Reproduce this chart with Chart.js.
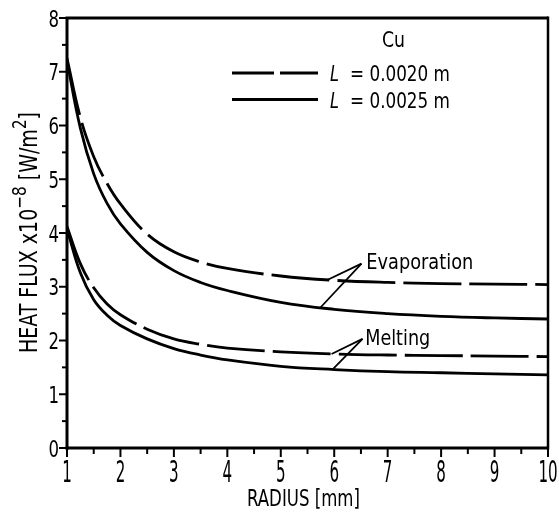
<!DOCTYPE html>
<html>
<head>
<meta charset="utf-8">
<script src="https://cdn.jsdelivr.net/npm/chart.js@4"></script>
<style>
  html, body { margin: 0; padding: 0; background: #fff; }
  #wrap { width: 559px; height: 512px; }
</style>
</head>
<body>
<div id="wrap"><canvas id="chart" width="559" height="512"></canvas></div>
<script>
const FONT = '"DejaVu Sans Condensed", "DejaVu Sans", sans-serif';

// radius [mm]
const radius = [1, 1.25, 1.5, 1.75, 2, 2.5, 3, 3.5, 4, 5, 6, 7, 8, 9, 10];

// heat flux x 10^-8 [W/m2]
const evapL20 = [7.25, 6.15, 5.42, 4.92, 4.54, 3.98, 3.65, 3.46, 3.34, 3.20, 3.12, 3.08, 3.06, 3.05, 3.04];
const evapL25 = [7.20, 5.95, 5.10, 4.55, 4.17, 3.64, 3.30, 3.08, 2.93, 2.71, 2.58, 2.50, 2.45, 2.42, 2.40];
const meltL20 = [4.12, 3.43, 2.98, 2.68, 2.48, 2.21, 2.03, 1.93, 1.86, 1.79, 1.75, 1.73, 1.72, 1.71, 1.70];
const meltL25 = [4.08, 3.26, 2.76, 2.47, 2.28, 2.03, 1.85, 1.73, 1.64, 1.52, 1.46, 1.42, 1.40, 1.38, 1.36];

const xTicks = [1, 2, 3, 4, 5, 6, 7, 8, 9, 10];
const yTicks = [0, 1, 2, 3, 4, 5, 6, 7, 8];

const legendItems = ['0.0020', '0.0025'];

// leader lines: tip near the label, then the points on the curves (data units)
const evapLabel = { text: 'Evaporation', x: 6.6, y: 3.33, w: 107, tip: [6.51, 3.43], ends: [[5.86, 3.12], [5.73, 2.60]] };
const meltLabel = { text: 'Melting', x: 6.58, y: 1.91, w: 65, tip: [6.53, 2.03], ends: [[5.95, 1.75], [5.98, 1.47]] };

const DASH = [58, 8];

function pts(ys) {
  return radius.map((r, i) => ({ x: r, y: ys[i] }));
}

function line(label, ys, dashed) {
  return {
    label: label,
    data: pts(ys),
    borderColor: '#000',
    borderWidth: 2.8,
    borderDash: dashed ? DASH : [],
    pointRadius: 0,
    tension: 0.4,
    fill: false
  };
}

// text squeezed horizontally, the original lettering is very narrow
function sqText(ctx, t, x, y, size, sx, align, style) {
  ctx.save();
  ctx.font = (style ? style + ' ' : '') + size + 'px ' + FONT;
  ctx.textAlign = align || 'left';
  ctx.translate(x, y);
  ctx.scale(sx, 1);
  ctx.fillText(t, 0, 0);
  ctx.restore();
}

function fitText(ctx, t, x, y, size, width, align, style) {
  ctx.font = (style ? style + ' ' : '') + size + 'px ' + FONT;
  const w = ctx.measureText(t).width;
  sqText(ctx, t, x, y, size, width / w, align, style);
}

const decorations = {
  id: 'decorations',
  afterDraw(chart) {
    const ctx = chart.ctx;
    const a = chart.chartArea;
    const xs = chart.scales.x, ys = chart.scales.y;
    ctx.save();
    ctx.strokeStyle = '#000';
    ctx.fillStyle = '#000';
    ctx.textBaseline = 'alphabetic';

    // frame
    ctx.lineWidth = 3;
    ctx.beginPath();
    ctx.moveTo(a.left, a.bottom + 1.5);
    ctx.lineTo(a.left, a.top);
    ctx.lineTo(a.right, a.top);
    ctx.stroke();
    ctx.beginPath();
    ctx.moveTo(a.left - 1.5, a.bottom);
    ctx.lineTo(a.right, a.bottom);
    ctx.stroke();
    ctx.lineWidth = 2.5;
    ctx.beginPath();
    ctx.moveTo(a.right, a.top - 1.5);
    ctx.lineTo(a.right, a.bottom + 1.5);
    ctx.stroke();

    // ticks, major and minor
    ctx.lineWidth = 2;
    xTicks.forEach((v, i) => {
      const px = xs.getPixelForValue(v);
      ctx.beginPath();
      ctx.moveTo(px, a.bottom);
      ctx.lineTo(px, a.bottom + 9);
      ctx.stroke();
      if (i < xTicks.length - 1) {
        const mx = xs.getPixelForValue((v + xTicks[i + 1]) / 2);
        ctx.beginPath();
        ctx.moveTo(mx, a.bottom);
        ctx.lineTo(mx, a.bottom + 6);
        ctx.stroke();
      }
      sqText(ctx, String(v), px, 482, 30, 0.56, 'center');
    });
    yTicks.forEach((v, i) => {
      const py = ys.getPixelForValue(v);
      ctx.beginPath();
      ctx.moveTo(a.left - 8, py);
      ctx.lineTo(a.left, py);
      ctx.stroke();
      if (i < yTicks.length - 1) {
        const my = ys.getPixelForValue((v + yTicks[i + 1]) / 2);
        ctx.beginPath();
        ctx.moveTo(a.left - 5, my);
        ctx.lineTo(a.left, my);
        ctx.stroke();
      }
      sqText(ctx, String(v), a.left - 8, py + 8.5, 23, 0.8, 'right');
    });

    // legend
    fitText(ctx, 'Cu', 382, 47, 21, 23, 'left');
    legendItems.forEach((v, i) => {
      const y = 73 + i * 26.5;
      ctx.lineWidth = 2.8;
      ctx.setLineDash(i === 0 ? [42, 6] : []);
      ctx.beginPath();
      ctx.moveTo(232, y);
      ctx.lineTo(318, y);
      ctx.stroke();
      ctx.setLineDash([]);
      fitText(ctx, 'L', 330, y + 8, 22, 9, 'left', 'italic');
      fitText(ctx, '= ' + v + ' m', 350, y + 8, 22, 100, 'left');
    });

    // curve labels with leaders
    [evapLabel, meltLabel].forEach(lb => {
      const tx = xs.getPixelForValue(lb.tip[0]), ty = ys.getPixelForValue(lb.tip[1]);
      ctx.lineWidth = 1.8;
      lb.ends.forEach(e => {
        ctx.beginPath();
        ctx.moveTo(tx, ty);
        ctx.lineTo(xs.getPixelForValue(e[0]), ys.getPixelForValue(e[1]));
        ctx.stroke();
      });
      fitText(ctx, lb.text, xs.getPixelForValue(lb.x), ys.getPixelForValue(lb.y), 22, lb.w, 'left');
    });

    // axis titles
    fitText(ctx, 'RADIUS [mm]', 247, 506, 23, 113, 'left');

    ctx.translate(37, 353);
    ctx.rotate(-Math.PI / 2);
    const parts = [
      ['HEAT FLUX x10', 25, 0],
      ['\u22128', 20, 11],
      [' [W/m', 25, 0],
      ['2', 20, 11],
      [']', 25, 0]
    ];
    let total = 0;
    parts.forEach(p => { ctx.font = p[1] + 'px ' + FONT; total += ctx.measureText(p[0]).width; });
    const k = 241 / total;
    ctx.scale(k, 1);
    let x = 0;
    ctx.textAlign = 'left';
    parts.forEach(p => {
      ctx.font = p[1] + 'px ' + FONT;
      ctx.fillText(p[0], x, -p[2]);
      x += ctx.measureText(p[0]).width;
    });
    ctx.restore();
  }
};

new Chart(document.getElementById('chart'), {
  type: 'line',
  data: {
    datasets: [
      line('Evaporation, L = 0.0020 m', evapL20, true),
      line('Evaporation, L = 0.0025 m', evapL25, false),
      line('Melting, L = 0.0020 m', meltL20, true),
      line('Melting, L = 0.0025 m', meltL25, false)
    ]
  },
  options: {
    responsive: false,
    animation: false,
    events: [],
    layout: { padding: { top: 18, right: 11, left: 0, bottom: 0 } },
    plugins: { legend: { display: false }, tooltip: { enabled: false } },
    scales: {
      x: {
        type: 'linear',
        min: 1,
        max: 10,
        afterFit: s => { s.height = 64; },
        afterBuildTicks: s => { s.ticks = xTicks.map(v => ({ value: v })); },
        ticks: { display: false },
        grid: { display: false },
        border: { display: false }
      },
      y: {
        min: 0,
        max: 8,
        afterFit: s => { s.width = 67; },
        afterBuildTicks: s => { s.ticks = yTicks.map(v => ({ value: v })); },
        ticks: { display: false },
        grid: { display: false },
        border: { display: false }
      }
    }
  },
  plugins: [decorations]
});
</script>
</body>
</html>
